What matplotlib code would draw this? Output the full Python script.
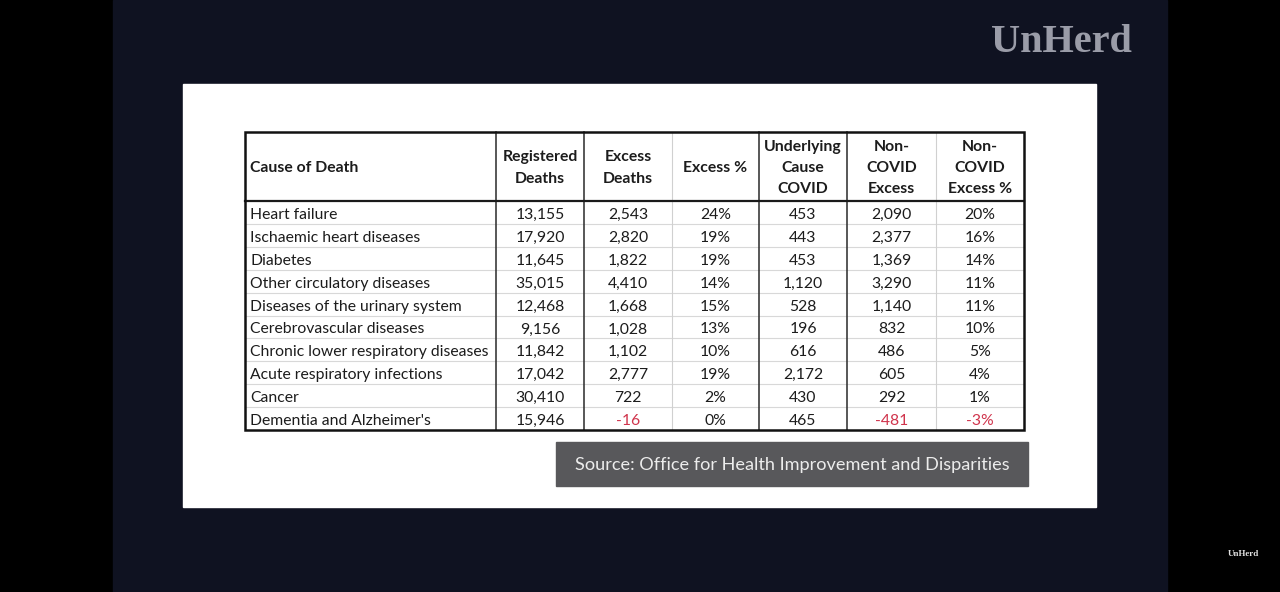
import matplotlib
matplotlib.use("Agg")
import matplotlib.pyplot as plt
from matplotlib.patches import Rectangle

causes = ["Heart failure", "Ischaemic heart diseases", "Diabetes", "Other circulatory diseases",
          "Diseases of the urinary system", "Cerebrovascular diseases",
          "Chronic lower respiratory diseases", "Acute respiratory infections", "Cancer",
          "Dementia and Alzheimer's"]
registered = [13155, 17920, 11645, 35015, 12468, 9156, 11842, 17042, 30410, 15946]
excess = [2543, 2820, 1822, 4410, 1668, 1028, 1102, 2777, 722, -16]
excess_pct = [24, 19, 19, 14, 15, 13, 10, 19, 2, 0]
covid = [453, 443, 453, 1120, 528, 196, 616, 2172, 430, 465]
noncovid = [2090, 2377, 1369, 3290, 1140, 832, 486, 605, 292, -481]
noncovid_pct = [20, 16, 14, 11, 11, 10, 5, 4, 1, -3]
headers = ["Cause of Death", "Registered\nDeaths", "Excess\nDeaths", "Excess %",
           "Underlying\nCause\nCOVID", "Non-\nCOVID\nExcess", "Non-\nCOVID\nExcess %"]
source = "Source: Office for Health Improvement and Disparities"

fig = plt.figure(figsize=(12.8, 5.92), dpi=100)
ax = fig.add_axes([0, 0, 1, 1])
ax.set_xlim(0, 1280)
ax.set_ylim(592, 0)
ax.axis("off")
fig.patch.set_facecolor("black")

# dark panel and white slide
ax.add_patch(Rectangle((113, 0), 1054, 592, color="#0f1221", zorder=0))
ax.add_patch(Rectangle((183, 84), 913, 423, color="white", zorder=1))

# logos
ax.text(1061, 42, "UnHerd", fontfamily="Liberation Serif", fontweight="bold",
        fontsize=29, color="#9a9ca8", ha="center", va="center", zorder=2)
ax.text(1243, 554, "UnHerd", fontfamily="Liberation Serif", fontweight="bold",
        fontsize=6.5, color="#e0e0e0", ha="center", va="center", zorder=2)

# table geometry
col_edges = [245, 496, 584, 672, 759, 847, 936, 1024]
top, head_bot, bottom = 132, 201, 430
nrows = len(causes)
rh = (bottom - head_bot) / nrows
font = "Lato"
fs = 11.3
txt = "#1c1c1c"
red = "#d0344c"

# light grid
for i in range(1, nrows):
    y = head_bot + i * rh
    ax.plot([col_edges[0], col_edges[-1]], [y, y], color="#d8d8d8", lw=0.8, zorder=2)
for x in [672, 936]:
    ax.plot([x, x], [top, bottom], color="#d0d0d0", lw=0.8, zorder=2)
# dark lines
for x in [496, 584, 759, 847]:
    ax.plot([x, x], [top, bottom], color="#2a2a2a", lw=1.1, zorder=3)
ax.plot([col_edges[0], col_edges[-1]], [head_bot, head_bot], color="#1a1a1a", lw=1.6, zorder=3)
ax.add_patch(Rectangle((col_edges[0], top), col_edges[-1] - col_edges[0], bottom - top,
                       fill=False, edgecolor="#111111", lw=1.8, zorder=4))

# headers
hy = (top + head_bot) / 2 + 1.5
for j, h in enumerate(headers):
    if j == 0:
        ax.text(col_edges[0] + 5, hy, h, fontfamily=font, fontweight="bold", fontsize=fs,
                color=txt, ha="left", va="center", zorder=5)
    else:
        cx = (col_edges[j] + col_edges[j + 1]) / 2
        ax.text(cx, hy, h, fontfamily=font, fontweight="bold", fontsize=fs, color=txt,
                ha="center", va="center", linespacing=1.65, multialignment="center", zorder=5)

def fmt(v):
    return f"{v:,}"

cols = [registered, excess, [f"{p}%" for p in excess_pct], covid, noncovid,
        [f"{p}%" for p in noncovid_pct]]
negs = [registered, excess, excess_pct, covid, noncovid, noncovid_pct]
for i in range(nrows):
    cy = head_bot + (i + 0.5) * rh + 2.5
    ax.text(col_edges[0] + 5, cy, causes[i], fontfamily=font, fontsize=fs, color=txt,
            ha="left", va="center", zorder=5)
    for j, col in enumerate(cols):
        v = col[i]
        s = fmt(v) if isinstance(v, int) else v
        c = red if negs[j][i] < 0 else txt
        cx = (col_edges[j + 1] + col_edges[j + 2]) / 2
        ax.text(cx, cy, s, fontfamily=font, fontsize=fs, color=c, ha="center",
                va="center", zorder=5)

# source box
ax.add_patch(Rectangle((556, 442), 472, 44, color="#58585b", zorder=2))
ax.text(792, 465, source, fontfamily=font, fontsize=13.1, color="#ececec",
        ha="center", va="center", zorder=3)

fig.savefig("out.png", dpi=100, facecolor="black")
